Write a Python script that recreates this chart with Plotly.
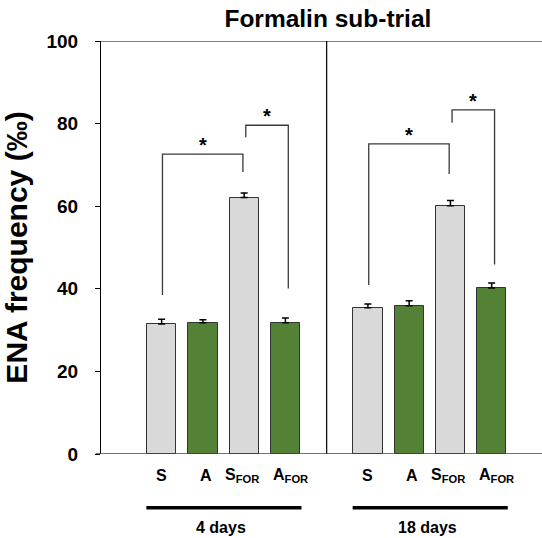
import plotly.graph_objects as go

# ---- data ----
categories = ["S", "A", "S<sub>FOR</sub>", "A<sub>FOR</sub>"]
groups = ["4 days", "18 days"]
values_4d = [31.5, 31.8, 62.1, 31.8]
errors_4d = [1.1, 0.7, 1.1, 1.1]
values_18d = [35.4, 35.9, 60.1, 40.2]
errors_18d = [0.9, 1.2, 1.3, 1.2]
colors = ["#d9d9d9", "#538135", "#d9d9d9", "#538135"]
yticks = [0, 20, 40, 60, 80, 100]
title = "Formalin sub-trial"
ytitle = "ENA frequency (‰)"

# significance brackets: (group, from-bar, to-bar, left bottom, top, right bottom, star y)
brackets = [
    (0, 0, 2, 38.5, 72.6, 68.3, 74.8),
    (0, 2, 3, 76.7, 79.6, 40.1, 81.8),
    (1, 0, 2, 40.9, 75.1, 67.8, 77.3),
    (1, 2, 3, 80.2, 83.3, 45.9, 85.5),
]

# positions
x_4d = [1.5, 2.5, 3.5, 4.5]
x_18d = [6.5, 7.5, 8.5, 9.5]
xpos = [x_4d, x_18d]
divider_x = 5.5

BOLD = "bold"
fig = go.Figure()

for xs, vals, errs in [(x_4d, values_4d, errors_4d), (x_18d, values_18d, errors_18d)]:
    fig.add_trace(go.Bar(
        x=xs, y=vals, width=0.71,
        marker=dict(color=colors, line=dict(color="#333333", width=1)),
        error_y=dict(type="data", array=errs, arrayminus=[0] * len(errs),
                     symmetric=False, color="#000000", thickness=1.5, width=3.5),
        showlegend=False, hoverinfo="skip",
    ))

for g, i, j, yl, yt, yr, ys in brackets:
    xl = xpos[g][i] + (0.04 if i == 2 else 0.02)
    xr = xpos[g][j] + (-0.03 if j == 2 else 0.07)
    fig.add_trace(go.Scatter(
        x=[xl, xl, xr, xr], y=[yl, yt, yt, yr], mode="lines",
        line=dict(color="#3a3a3a", width=1.3), showlegend=False, hoverinfo="skip",
    ))
    fig.add_annotation(x=(xl + xr) / 2, y=ys, text="*", showarrow=False,
                       font=dict(size=20, color="#000000", weight=BOLD), yanchor="middle")

# divider line between groups
fig.add_shape(type="line", xref="x", yref="y", x0=divider_x, x1=divider_x, y0=0, y1=100,
              line=dict(color="#000000", width=1.2))
# top line at 100
fig.add_shape(type="line", xref="paper", yref="y", x0=0, x1=1, y0=100, y1=100,
              line=dict(color="#000000", width=1.2))
# baseline extension to the left (tick at 0)
fig.add_shape(type="line", xref="paper", yref="y", x0=-0.012, x1=1, y0=0, y1=0,
              line=dict(color="#444444", width=1.5))

# category labels
for xs in xpos:
    for k, (xx, lab) in enumerate(zip(xs, categories)):
        off = 0.08 if k == 1 else (0.12 if k == 3 else (-0.05 if k == 2 else 0))
        fig.add_annotation(x=xx + off, y=0, yref="y", text=lab,
                           showarrow=False, yshift=-21,
                           font=dict(size=16, color="#000000", weight=BOLD),
                           yanchor="middle")

# group underline and labels
for xs, g in zip(xpos, groups):
    fig.add_shape(type="line", xref="x", yref="paper", x0=xs[0] - 0.37, x1=xs[-1] + 0.39,
                  y0=-0.13, y1=-0.13, line=dict(color="#000000", width=3.5))
    fig.add_annotation(x=(xs[0] + xs[-1]) / 2 - 0.05, y=-0.177, yref="paper",
                       text=g, showarrow=False,
                       font=dict(size=16, color="#000000", weight=BOLD), yanchor="middle")

fig.update_layout(
    width=542, height=538,
    margin=dict(l=101, r=0, t=41, b=84, autoexpand=False),
    paper_bgcolor="white", plot_bgcolor="white",
    font=dict(family="Liberation Sans, Arial, sans-serif", color="#000000"),
    title=dict(text=title, x=0.605, xanchor="center", y=0.965,
               yanchor="middle", font=dict(size=24.5, weight=BOLD)),
    bargap=0,
)
fig.update_xaxes(range=[0.03, 10.72], showticklabels=False, ticks="", showgrid=False,
                 zeroline=False, showline=False, automargin=False)
fig.update_yaxes(range=[0, 100], tickvals=yticks, ticks="outside", ticklen=5,
                 tickwidth=1.2, tickcolor="#000000", showgrid=False, zeroline=False,
                 showline=True, linecolor="#000000", linewidth=1.2, automargin=False,
                 tickfont=dict(size=19, color="#000000", weight=BOLD), ticklabelstandoff=13,
                 title=dict(text=ytitle, font=dict(size=30, weight=BOLD), standoff=10))

fig.write_html("out.html", config={"displayModeBar": False},
               post_script="document.body.style.margin='0';document.body.style.padding='0';")
